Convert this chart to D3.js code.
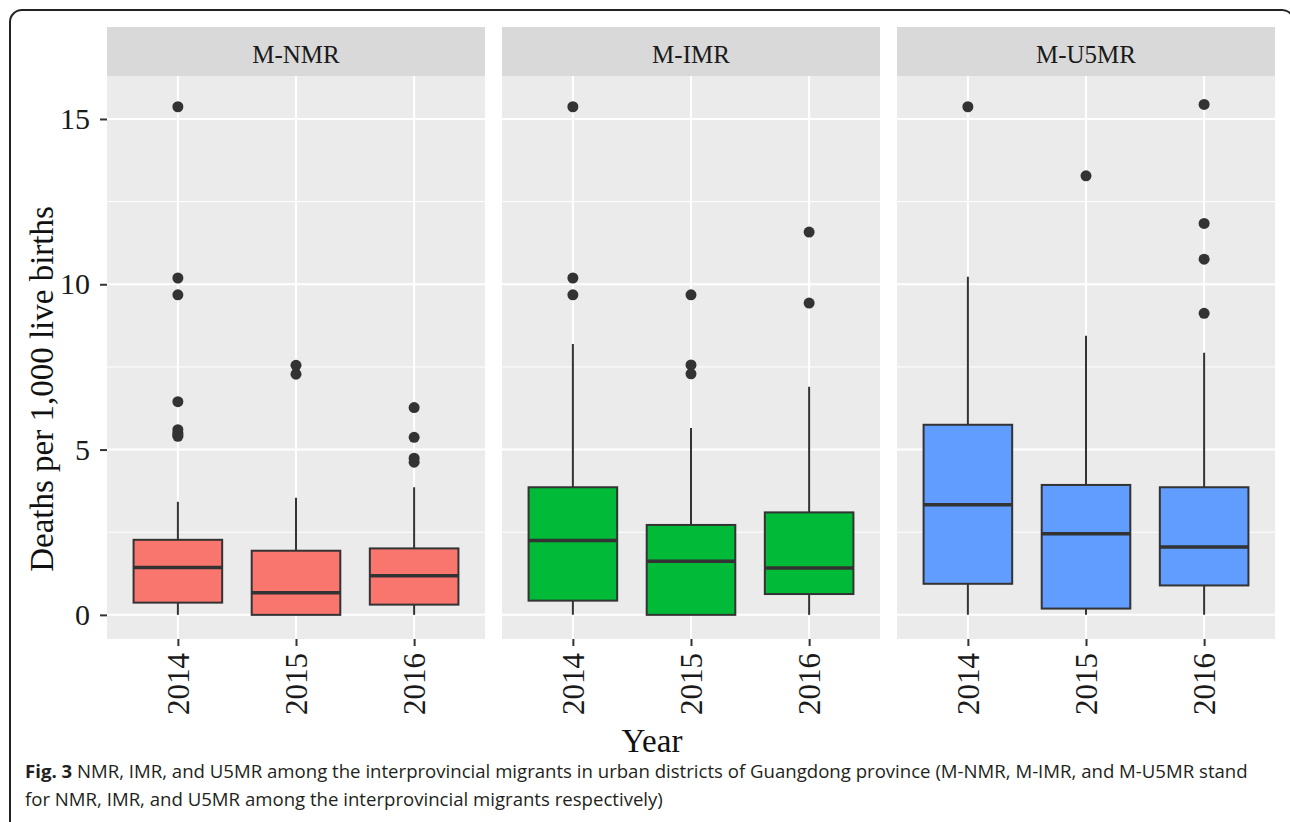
<!DOCTYPE html>
<html>
<head>
<meta charset="utf-8">
<script src="https://cdn.jsdelivr.net/npm/d3@7"></script>
<style>
  body { margin: 0; background: #fff; }
  svg { display: block; }
</style>
</head>
<body>
<div id="container"></div>
<script>
const years = ['2014', '2015', '2016'];
const facets = ['M-NMR', 'M-IMR', 'M-U5MR'];
const fills = ['#F8766D', '#00BA38', '#619CFF'];

// box stats per facet, one entry per year: [lower whisker, q1, median, q3, upper whisker]
const nmrStats = [
  [0, 0.37, 1.43, 2.27, 3.42],
  [0, 0, 0.67, 1.94, 3.54],
  [0, 0.31, 1.18, 2.01, 3.86],
];
const imrStats = [
  [0, 0.43, 2.25, 3.86, 8.19],
  [0, 0, 1.62, 2.72, 5.65],
  [0, 0.63, 1.42, 3.1, 6.9],
];
const u5mrStats = [
  [0, 0.94, 3.33, 5.75, 10.23],
  [0, 0.19, 2.45, 3.93, 8.44],
  [0, 0.89, 2.05, 3.86, 7.93],
];

const nmrOutliers = [
  [15.37, 10.19, 9.68, 6.45, 5.6, 5.5, 5.45, 5.4],
  [7.55, 7.28],
  [6.27, 5.37, 4.74, 4.62],
];
const imrOutliers = [
  [15.37, 10.19, 9.68],
  [9.68, 7.56, 7.29],
  [11.58, 9.43],
];
const u5mrOutliers = [
  [15.37],
  [13.28],
  [15.44, 11.84, 10.76, 9.12],
];

const yTicks = [0, 5, 10, 15];
const yMinor = [2.5, 7.5, 12.5];

const stats = [nmrStats, imrStats, u5mrStats];
const outliers = [nmrOutliers, imrOutliers, u5mrOutliers];

const w = 1290;
const h = 822;
const panelTop = 76;
const panelBottom = 639;
const stripTop = 27;
const panelW = 378;
const gap = 17;
const left = 107;
const serif = "'Liberation Serif', 'Times New Roman', serif";

const svg = d3
  .select('#container')
  .append('svg')
  .attr('width', w)
  .attr('height', h);

// figure frame, cut off on the right and at the bottom
svg
  .append('rect')
  .attr('x', 10)
  .attr('y', 10)
  .attr('width', 1284)
  .attr('height', 900)
  .attr('rx', 12)
  .attr('fill', 'none')
  .attr('stroke', '#222')
  .attr('stroke-width', 2);

const yScale = d3
  .scaleLinear()
  .domain([-0.73, 16.3])
  .range([panelBottom, panelTop]);

facets.forEach((facet, i) => {
  const x0 = left + i * (panelW + gap);
  const xScale = d3
    .scalePoint()
    .domain(years)
    .range([x0, x0 + panelW])
    .padding(0.6);
  const boxW = xScale.step() * 0.75;

  const g = svg.append('g');

  g.append('rect')
    .attr('x', x0)
    .attr('y', panelTop)
    .attr('width', panelW)
    .attr('height', panelBottom - panelTop)
    .attr('fill', '#EBEBEB');

  g.selectAll('.minor')
    .data(yMinor)
    .enter()
    .append('line')
    .attr('x1', x0)
    .attr('x2', x0 + panelW)
    .attr('y1', d => yScale(d))
    .attr('y2', d => yScale(d))
    .attr('stroke', '#fff')
    .attr('stroke-width', 1);

  g.selectAll('.major')
    .data(yTicks)
    .enter()
    .append('line')
    .attr('x1', x0)
    .attr('x2', x0 + panelW)
    .attr('y1', d => yScale(d))
    .attr('y2', d => yScale(d))
    .attr('stroke', '#fff')
    .attr('stroke-width', 2);

  g.selectAll('.vgrid')
    .data(years)
    .enter()
    .append('line')
    .attr('x1', d => xScale(d))
    .attr('x2', d => xScale(d))
    .attr('y1', panelTop)
    .attr('y2', panelBottom)
    .attr('stroke', '#fff')
    .attr('stroke-width', 2);

  // strip
  g.append('rect')
    .attr('x', x0)
    .attr('y', stripTop)
    .attr('width', panelW)
    .attr('height', panelTop - stripTop)
    .attr('fill', '#D9D9D9');

  g.append('text')
    .attr('x', x0 + panelW / 2)
    .attr('y', 63)
    .attr('text-anchor', 'middle')
    .style('font-family', serif)
    .style('font-size', '25px')
    .attr('fill', '#1A1A1A')
    .text(facet);

  const rows = stats[i].map((s, j) => ({ year: years[j], s, out: outliers[i][j] }));

  // whiskers
  g.selectAll('.whisker')
    .data(rows)
    .enter()
    .append('line')
    .attr('x1', d => xScale(d.year))
    .attr('x2', d => xScale(d.year))
    .attr('y1', d => yScale(d.s[0]))
    .attr('y2', d => yScale(d.s[4]))
    .attr('stroke', '#333')
    .attr('stroke-width', 2);

  g.selectAll('.box')
    .data(rows)
    .enter()
    .append('rect')
    .attr('x', d => xScale(d.year) - boxW / 2)
    .attr('y', d => yScale(d.s[3]))
    .attr('width', boxW)
    .attr('height', d => yScale(d.s[1]) - yScale(d.s[3]))
    .attr('fill', fills[i])
    .attr('stroke', '#333')
    .attr('stroke-width', 2);

  g.selectAll('.median')
    .data(rows)
    .enter()
    .append('line')
    .attr('x1', d => xScale(d.year) - boxW / 2)
    .attr('x2', d => xScale(d.year) + boxW / 2)
    .attr('y1', d => yScale(d.s[2]))
    .attr('y2', d => yScale(d.s[2]))
    .attr('stroke', '#333')
    .attr('stroke-width', 3.5);

  rows.forEach(r => {
    g.selectAll(null)
      .data(r.out)
      .enter()
      .append('circle')
      .attr('cx', xScale(r.year))
      .attr('cy', d => yScale(d))
      .attr('r', 5.5)
      .attr('fill', '#333');
  });

  // x axis ticks and labels
  const xAxis = d3.axisBottom(xScale).tickSize(7).tickPadding(7);
  const ax = svg
    .append('g')
    .attr('transform', `translate(0, ${panelBottom})`)
    .call(xAxis);
  ax.select('.domain').remove();
  ax.selectAll('.tick line').attr('stroke', '#333').attr('stroke-width', 2);
  ax.selectAll('.tick text')
    .attr('transform', 'rotate(-90)')
    .attr('x', -14)
    .attr('y', 0)
    .attr('dy', '0.35em')
    .attr('text-anchor', 'end')
    .style('font-family', serif)
    .style('font-size', '31px')
    .attr('fill', '#1A1A1A');
});

// y axis
const yAxis = d3.axisLeft(yScale).tickValues(yTicks).tickSize(7).tickPadding(10);
const ay = svg
  .append('g')
  .attr('transform', `translate(${left}, 0)`)
  .call(yAxis);
ay.select('.domain').remove();
ay.selectAll('.tick line').attr('stroke', '#333').attr('stroke-width', 2);
ay.selectAll('.tick text')
  .style('font-family', serif)
  .style('font-size', '30px')
  .attr('fill', '#1A1A1A');

svg
  .append('text')
  .attr('transform', 'translate(53, 389) rotate(-90)')
  .attr('text-anchor', 'middle')
  .style('font-family', serif)
  .style('font-size', '33px')
  .attr('fill', '#111')
  .text('Deaths per 1,000 live births');

svg
  .append('text')
  .attr('x', 652)
  .attr('y', 752)
  .attr('text-anchor', 'middle')
  .style('font-family', serif)
  .style('font-size', '33px')
  .attr('fill', '#111')
  .text('Year');

// caption
const caption = svg
  .append('g')
  .style('font-family', "'Open Sans', sans-serif")
  .style('font-size', '18.6px')
  .attr('fill', '#231F20');

const line1 = caption.append('text').attr('x', 25).attr('y', 778);
line1.append('tspan').style('font-weight', 'bold').text('Fig. 3');
line1
  .append('tspan')
  .text(
    ' NMR, IMR, and U5MR among the interprovincial migrants in urban districts of Guangdong province (M-NMR, M-IMR, and M-U5MR stand'
  );

caption
  .append('text')
  .attr('x', 25)
  .attr('y', 806)
  .text('for NMR, IMR, and U5MR among the interprovincial migrants respectively)');
</script>
</body>
</html>
